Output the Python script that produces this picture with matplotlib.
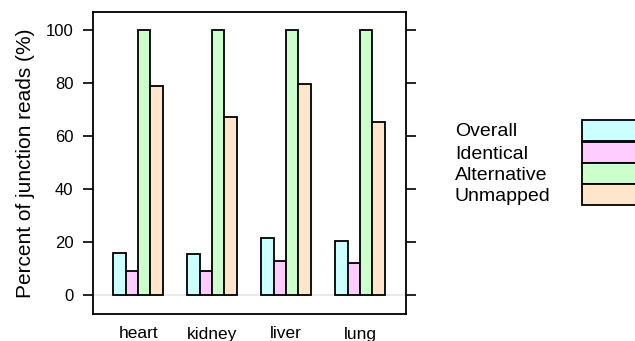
import numpy as np
import matplotlib.pyplot as plt
from matplotlib.patches import Rectangle

plt.rcParams["font.family"] = ["Liberation Sans", "DejaVu Sans"]

tissues = ["heart", "kidney", "liver", "lung"]
series = ["Overall", "Identical", "Alternative", "Unmapped"]
overall = [16.1, 15.5, 21.6, 20.5]
identical = [9.2, 9.2, 13.0, 12.3]
alternative = [100, 100, 100, 100]
unmapped = [78.9, 67.0, 79.4, 65.1]
colors = ["#CCFFFF", "#FFCCFF", "#CCFFCC", "#FFE5CC"]

values = [overall, identical, alternative, unmapped]


def main():
    fig = plt.figure(figsize=(6.35, 3.41), dpi=100)
    ax = fig.add_axes([93 / 635, 27 / 341, 313 / 635, 302 / 341])

    x = np.arange(1, len(tissues) + 1)
    w = 0.167
    ax.axhline(0, color="#e6e6e6", lw=1.2, zorder=0)
    for i, (vals, c) in enumerate(zip(values, colors)):
        ax.bar(x + (i - 1.5) * w, vals, width=w, color=c,
               edgecolor="black", linewidth=1.3, zorder=2)

    ax.set_xlim(0.39, 4.62)
    ax.set_ylim(-7, 106.6)
    ax.set_xticks(x)
    ax.set_xticklabels(tissues, fontsize=12.5)
    ax.set_yticks([0, 20, 40, 60, 80, 100])
    ax.tick_params(axis="x", length=0, pad=9)
    ax.tick_params(axis="y", length=7, width=1.2, direction="out",
                   labelsize=12, pad=7, right=True)
    for s in ax.spines.values():
        s.set_linewidth(1.3)
    ax.set_ylabel("Percent of junction reads (%)", fontsize=15, labelpad=8)

    # key on the right
    ys = [120, 142, 163, 184]
    for name, c, y in zip(series, colors, ys):
        fig.patches.append(Rectangle((582 / 635, 1 - (y + 21) / 341), 70 / 635, 21 / 341,
                                     transform=fig.transFigure, facecolor=c,
                                     edgecolor="black", linewidth=1.3))
        fig.text(455 / 635, 1 - (y + 12) / 341, name, fontsize=14, va="center", ha="left")

    fig.savefig("out.png", dpi=100)


if __name__ == '__main__':
    main()
